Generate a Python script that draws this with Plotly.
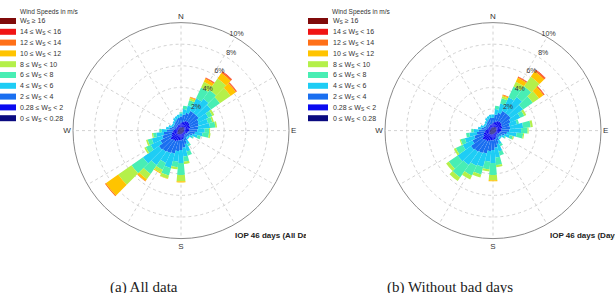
import plotly.graph_objects as go

W, H = 615, 293

directions = list(range(0, 360, 10))
speed_labels = ["0 ≤ W<sub>S</sub> < 0.28", "0.28 ≤ W<sub>S</sub> < 2", "2 ≤ W<sub>S</sub> < 4",
                "4 ≤ W<sub>S</sub> < 6", "6 ≤ W<sub>S</sub> < 8", "8 ≤ W<sub>S</sub> < 10",
                "10 ≤ W<sub>S</sub> < 12", "12 ≤ W<sub>S</sub> < 14", "14 ≤ W<sub>S</sub> < 16",
                "W<sub>S</sub> ≥ 16"]
colors = ["#0a0a80", "#0a0af0", "#1a6ff0", "#1ecdf5", "#48eeb4",
          "#b4f04a", "#ffc400", "#ff7018", "#f01414", "#800a0a"]
ring_vals = [2, 4, 6, 8, 10]
ring_text = ["2%", "4%", "6%", "8%", "10%"]
compass_vals = list(range(0, 360, 30))
compass_text = ["N", "", "", "E", "", "", "S", "", "", "W", "", ""]

# (a) All data: frequency (%) per speed class, 36 directions (0..350 deg)
a_s0 = [0.3,0.3,0.35,0.4,0.4,0.4,0.35,0.35,0.3,0.3,0.3,0.3,0.25,0.25,0.25,0.3,0.3,0.3,0.35,0.35,0.4,0.4,0.4,0.45,0.4,0.35,0.3,0.3,0.3,0.25,0.25,0.25,0.25,0.3,0.3,0.3]
a_s1 = [0.4,0.5,0.55,0.6,0.6,0.6,0.55,0.55,0.5,0.5,0.4,0.3,0.25,0.25,0.25,0.3,0.4,0.5,0.55,0.55,0.6,0.7,0.7,0.75,0.6,0.55,0.5,0.4,0.3,0.25,0.25,0.25,0.25,0.3,0.3,0.3]
a_s2 = [0.6,0.7,0.8,1.0,1.0,1.0,0.9,0.8,0.8,0.7,0.6,0.5,0.4,0.3,0.3,0.4,0.6,0.8,0.9,1.0,1.2,1.2,1.3,1.3,1.1,0.9,0.8,0.6,0.5,0.4,0.3,0.3,0.4,0.4,0.5,0.6]
a_s3 = [0.3,0.5,0.7,1.3,1.6,1.4,1.0,0.9,1.1,0.7,0.7,0.5,0.3,0.2,0.2,0.4,0.7,0.8,1.2,1.0,1.4,1.0,1.5,1.8,1.0,1.0,0.7,0.5,0.3,0.3,0.2,0.2,0.2,0.3,0.3,0.3]
a_s4 = [0.1,0.3,0.5,1.1,1.0,1.0,0.4,0.4,0.5,0.4,0.6,0.3,0.1,0,0,0.2,0.4,0.5,1.1,0.5,0.7,0.7,1.0,1.3,0.5,0.4,0.3,0.2,0,0,0,0,0,0,0,0]
a_s5 = [0,0,0.2,0.6,1.3,1.2,0.2,0.15,0.15,0.1,0.15,0,0,0,0,0,0,0.2,0.6,0.2,0.3,0.3,0.6,1.5,0.15,0.15,0.1,0,0,0,0,0,0,0,0,0]
a_s6 = [0,0,0.1,0.3,0.6,0.6,0,0,0,0,0,0,0,0,0,0,0,0,0.1,0,0.05,0.1,0.2,1.4,0,0,0,0,0,0,0,0,0,0,0,0]
a_s7 = [0,0,0.05,0.1,0.15,0.1,0,0,0,0,0,0,0,0,0,0,0,0,0,0,0,0,0.05,0.1,0,0,0,0,0,0,0,0,0,0,0,0]
a_s8 = [0,0,0,0.03,0.05,0.03,0,0,0,0,0,0,0,0,0,0,0,0,0,0,0,0,0,0,0,0,0,0,0,0,0,0,0,0,0,0]
a_s9 = [0]*36

# (b) Without bad days
b_s0 = [0.3,0.3,0.35,0.4,0.4,0.4,0.35,0.35,0.3,0.3,0.3,0.3,0.25,0.25,0.25,0.3,0.3,0.3,0.35,0.35,0.4,0.4,0.4,0.45,0.4,0.35,0.3,0.3,0.3,0.25,0.25,0.25,0.25,0.3,0.3,0.3]
b_s1 = [0.4,0.5,0.55,0.6,0.6,0.6,0.55,0.55,0.5,0.5,0.4,0.3,0.25,0.25,0.25,0.3,0.4,0.5,0.55,0.55,0.6,0.7,0.7,0.75,0.6,0.55,0.5,0.4,0.3,0.25,0.25,0.25,0.25,0.3,0.3,0.3]
b_s2 = [0.5,0.7,0.8,1.0,1.0,1.0,0.9,0.7,0.8,0.7,0.6,0.5,0.4,0.3,0.3,0.4,0.6,0.8,0.9,1.0,1.2,1.2,1.3,1.3,1.1,0.9,0.7,0.6,0.5,0.4,0.3,0.3,0.4,0.4,0.5,0.6]
b_s3 = [0.3,0.5,0.9,1.4,1.8,1.4,1.0,0.7,1.2,1.1,0.9,0.5,0.3,0.2,0.2,0.4,0.7,0.9,1.2,1.0,1.3,1.3,1.5,1.5,1.0,0.9,0.7,0.5,0.3,0.3,0.2,0.2,0.2,0.3,0.3,0.3]
b_s4 = [0,0.3,0.5,1.1,1.2,1.1,0.4,0.2,0.7,0.6,0.6,0.3,0.1,0,0,0.2,0.4,0.7,1.1,0.7,0.7,1.0,1.4,1.0,0.7,0.4,0.3,0.2,0,0,0,0,0,0,0,0]
b_s5 = [0,0,0.2,0.5,1.1,0.7,0.2,0,0.2,0.1,0.1,0.1,0,0,0,0,0,0.2,0.5,0.2,0.3,0.4,0.4,0.3,0.2,0.1,0,0,0,0,0,0,0,0,0,0]
b_s6 = [0,0,0.1,0.4,0.6,0.5,0,0,0,0,0,0,0,0,0,0,0,0,0.1,0,0,0,0,0,0,0,0,0,0,0,0,0,0,0,0,0]
b_s7 = [0,0,0.05,0.1,0.15,0.1,0,0,0,0,0,0,0,0,0,0,0,0,0,0,0,0,0,0,0,0,0,0,0,0,0,0,0,0,0,0]
b_s8 = [0,0,0,0.03,0.05,0.03,0,0,0,0,0,0,0,0,0,0,0,0,0,0,0,0,0,0,0,0,0,0,0,0,0,0,0,0,0,0]
b_s9 = [0]*36

series_a = [a_s0, a_s1, a_s2, a_s3, a_s4, a_s5, a_s6, a_s7, a_s8, a_s9]
series_b = [b_s0, b_s1, b_s2, b_s3, b_s4, b_s5, b_s6, b_s7, b_s8, b_s9]

legend_title = "Wind Speeds in m/s"
captions = ["(a) All data", "(b) Without bad days"]
titles = ["IOP 46 days (All Da", "IOP 46 days (Days"]

FONT = "Liberation Sans, Arial, sans-serif"


def px(x):
    return x / W


def py(y):
    return 1 - y / H


# ring label placement (inside range; the outermost label sits on the rim)
ring_r = [min(v + 0.55, 10) for v in ring_vals]
ring_pos = ["middle center" if v + 0.55 <= 10 else "top center" for v in ring_vals]
ring_theta = [33 if v + 0.55 <= 10 else 31 for v in ring_vals]

fig = go.Figure()
for pname, series in (("polar", series_a), ("polar2", series_b)):
    for k, vals in enumerate(series):
        fig.add_trace(go.Barpolar(r=vals, theta=directions, width=10, subplot=pname,
                                  marker=dict(color=colors[k], line=dict(width=0)),
                                  name=speed_labels[k], showlegend=False, hoverinfo="skip"))
    fig.add_trace(go.Scatterpolar(r=ring_r, theta=ring_theta, text=ring_text, textposition=ring_pos,
                                  mode="text", subplot=pname, cliponaxis=False,
                                  textfont=dict(size=7, color="#333333", family=FONT),
                                  showlegend=False, hoverinfo="skip"))

polar_common = dict(
    bgcolor="white",
    barmode="stack",
    bargap=0,
    radialaxis=dict(range=[0, 10], tickvals=ring_vals, showticklabels=False, ticks="",
                    showline=False, gridcolor="#d2d2d2", griddash="dot", gridwidth=0.8,
                    layer="below traces"),
    angularaxis=dict(rotation=90, direction="clockwise", tickvals=compass_vals,
                     ticktext=compass_text, ticks="", showline=True, linecolor="#8a8a8a",
                     linewidth=1, gridcolor="#d2d2d2", griddash="dot", gridwidth=0.8,
                     tickfont=dict(size=8, color="#333333", family=FONT), layer="below traces"),
)

cx = [181, 493]
cy = 130.6
R = 108
fig.update_layout(
    width=W, height=H, autosize=False,
    margin=dict(l=0, r=0, t=0, b=0),
    paper_bgcolor="white", plot_bgcolor="white",
    polar=dict(domain=dict(x=[px(cx[0] - R), px(cx[0] + R)], y=[py(cy + R), py(cy - R)]), **polar_common),
    polar2=dict(domain=dict(x=[px(cx[1] - R), px(cx[1] + R)], y=[py(cy + R), py(cy - R)]), **polar_common),
    showlegend=False,
)

shapes = []
annotations = []
legend_x = [(-4, 16, 18), (308, 328, 331)]
title_x = [17.5, 330]
for p in range(2):
    rx0, rx1, tx = legend_x[p]
    annotations.append(dict(x=px(title_x[p]), y=py(12), xref="paper", yref="paper",
                            text=legend_title, showarrow=False, xanchor="left", yanchor="middle",
                            font=dict(size=6.5, color="#333333", family=FONT)))
    for i in range(10):
        k = 9 - i
        yc = 21 + 10.8 * i
        shapes.append(dict(type="rect", xref="paper", yref="paper",
                           x0=px(rx0), x1=px(rx1), y0=py(yc - 3), y1=py(yc + 3),
                           fillcolor=colors[k], line=dict(width=0)))
        annotations.append(dict(x=px(tx), y=py(yc + 0.5), xref="paper", yref="paper",
                                text=speed_labels[k], showarrow=False, xanchor="left",
                                yanchor="middle", font=dict(size=7, color="#333333", family=FONT)))

# clipped titles (the source figure is cropped)
annotations.append(dict(x=px(233), y=py(235.5), xref="paper", yref="paper", text="<b>" + titles[0] + "</b>",
                        showarrow=False, xanchor="left", yanchor="middle", align="left", width=71,
                        font=dict(size=8, color="#222222", family=FONT)))
annotations.append(dict(x=px(548), y=py(235.5), xref="paper", yref="paper", text="<b>" + titles[1] + "</b>",
                        showarrow=False, xanchor="left", yanchor="middle", align="left", width=65,
                        font=dict(size=8, color="#222222", family=FONT)))
# captions (cut by the bottom edge as in the source)
cap_x = [143.5, 450]
for p in range(2):
    annotations.append(dict(x=px(cap_x[p]), y=py(277), xref="paper", yref="paper", text=captions[p],
                            showarrow=False, xanchor="center", yanchor="top",
                            font=dict(size=15, color="#222222", family="Liberation Serif, serif")))

fig.update_layout(shapes=shapes, annotations=annotations)
fig.write_html("out.html")
